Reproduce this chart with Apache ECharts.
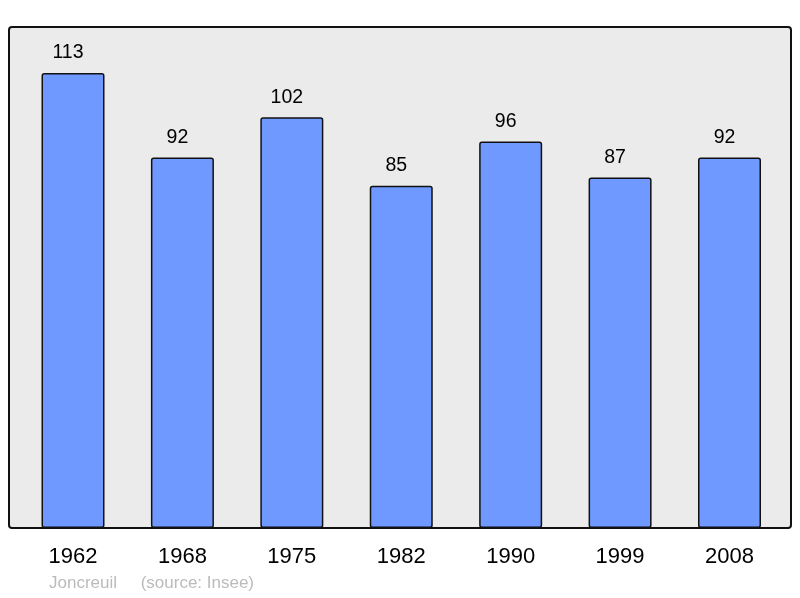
<!DOCTYPE html>
<html>
<head>
<meta charset="utf-8">
<script src="https://cdn.jsdelivr.net/npm/echarts@6/dist/echarts.min.js"></script>
<style>
  html, body { margin: 0; padding: 0; background: #fff; }
  #chart { width: 800px; height: 598px; }
</style>
</head>
<body>
<div id="chart"></div>
<script>
// données
const years = ['1962', '1968', '1975', '1982', '1990', '1999', '2008']
const population = [113, 92, 102, 85, 96, 87, 92]
const commune = 'Joncreuil'
const source = '(source: Insee)'

const chart = echarts.init(document.getElementById('chart'))

const option = {
    animation: false,
    textStyle: { fontFamily: 'Liberation Sans, Arial, sans-serif' },
    graphic: [
        {
            type: 'rect',
            z: -10,
            shape: { x: 9, y: 27, width: 782, height: 501, r: 3 },
            style: { fill: '#ebebeb', stroke: '#111', lineWidth: 2 }
        },
        {
            type: 'text',
            left: 49,
            top: 575,
            style: {
                text: commune + '     ' + source,
                fill: '#bbbbbb',
                fontSize: 17,
                fontFamily: 'Liberation Sans, Arial, sans-serif'
            }
        }
    ],
    grid: {
        left: 18.3,
        right: 15.8,
        top: 27,
        bottom: 70
    },
    xAxis: {
        type: 'category',
        data: years,
        axisLine: { show: false },
        axisTick: { show: false },
        axisLabel: {
            color: '#000',
            fontSize: 22,
            margin: 18
        }
    },
    yAxis: {
        type: 'value',
        min: 0,
        max: 124.4,
        show: false,
        splitLine: { show: false }
    },
    series: [
        {
            type: 'bar',
            data: population,
            barWidth: 63,
            itemStyle: {
                color: '#7099ff',
                borderColor: '#111',
                borderWidth: 1.5,
                borderRadius: 2
            },
            label: {
                show: true,
                position: 'top',
                distance: 10,
                offset: [-5, 0],
                color: '#000',
                fontSize: 19.5
            }
        }
    ]
}
chart.setOption(option)
</script>
</body>
</html>
